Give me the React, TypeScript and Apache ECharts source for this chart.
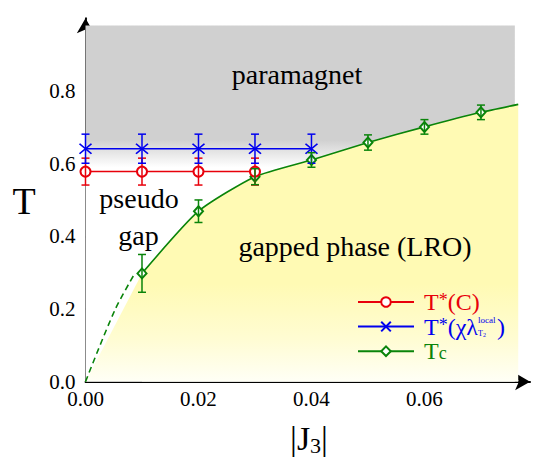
import React, { useEffect, useRef } from 'react';
import * as echarts from 'echarts';

const SERIF = 'Liberation Serif, serif';

// axis ticks / labels
const xTickValues = [0, 0.01, 0.02, 0.03, 0.04, 0.05, 0.06, 0.07];
const xLabelValues = [0, 0.02, 0.04, 0.06];
const yTickValues = [0, 0.2, 0.4, 0.6, 0.8];

// T*(C)
const tStarCJ3 = [0, 0.01, 0.02, 0.03];
const tStarCT = [0.578, 0.578, 0.578, 0.578];
const tStarCErr = [0.037, 0.037, 0.037, 0.037];

// T*(chi lambda)
const tStarChiJ3 = [0, 0.01, 0.02, 0.03, 0.04];
const tStarChiT = [0.641, 0.641, 0.641, 0.641, 0.641];
const tStarChiErr = [0.04, 0.04, 0.04, 0.04, 0.04];

// Tc
const tcJ3 = [0.01, 0.02, 0.03, 0.04, 0.05, 0.06, 0.07];
const tcT = [0.298, 0.469, 0.564, 0.61, 0.658, 0.701, 0.741];
const tcErr = [0.052, 0.031, 0.022, 0.02, 0.021, 0.02, 0.02];
const tcCurveEnd = [0.0766, 0.763];

// dashed extrapolation of Tc to the origin
const tcExtrapJ3 = [0, 0.0052, 0.0088];
const tcExtrapT = [0, 0.197, 0.3];

// paramagnet background region
const paraJ3 = [0, 0.076];
const paraT = [0.98, 0.98];
const grayFullT = 0.665;
const grayFadeT = 0.59;

const RED = '#e8000b';
const BLUE = '#0000ee';
const GREEN = '#0a840a';
const GRAY = '#d0d0d0';
const YELLOW = '#fffab4';

function grad(stops: { t: number; c: string }[], top: number) {
  return new echarts.graphic.LinearGradient(
    0,
    0,
    0,
    1,
    stops.map((s) => ({ offset: Math.min(1, Math.max(0, (top - s.t) / top)), color: s.c }))
  );
}

function yellowFill(top: number) {
  return grad(
    [
      { t: 0.27, c: YELLOW },
      { t: 0.12, c: '#fffcd2' },
      { t: 0, c: '#fffff6' },
    ],
    top
  );
}

function errorBars(name: string, xs: number[], ys: number[], es: number[], color: string) {
  return {
    type: 'custom',
    name,
    z: 5,
    silent: true,
    data: xs.map((x, i) => [x, ys[i], es[i]]),
    encode: { x: 0, y: 1 },
    renderItem: (_params: any, api: any) => {
      const x = api.value(0);
      const y = api.value(1);
      const e = api.value(2);
      const hi = api.coord([x, y + e]);
      const lo = api.coord([x, y - e]);
      const cap = 4;
      const style = { stroke: color, lineWidth: 1.5 };
      return {
        type: 'group',
        children: [
          { type: 'line', shape: { x1: hi[0], y1: hi[1], x2: lo[0], y2: lo[1] }, style },
          { type: 'line', shape: { x1: hi[0] - cap, y1: hi[1], x2: hi[0] + cap, y2: hi[1] }, style },
          { type: 'line', shape: { x1: lo[0] - cap, y1: lo[1], x2: lo[0] + cap, y2: lo[1] }, style },
        ],
      };
    },
  };
}

const legendRich = {
  rT: { color: RED, fontSize: 24, fontFamily: SERIF, lineHeight: 22, padding: [0, 0, 0, 5] },
  rS: { color: RED, fontSize: 18, fontFamily: SERIF, lineHeight: 10, verticalAlign: 'top' },
  rP: { color: RED, fontSize: 24, fontFamily: SERIF, lineHeight: 22 },
  bT: { color: BLUE, fontSize: 24, fontFamily: SERIF, lineHeight: 22, padding: [0, 0, 0, 5] },
  bS: { color: BLUE, fontSize: 18, fontFamily: SERIF, lineHeight: 10, verticalAlign: 'top' },
  bP: { color: BLUE, fontSize: 24, fontFamily: SERIF, lineHeight: 22 },
  bL: { color: BLUE, fontSize: 9, fontFamily: SERIF, lineHeight: 12, verticalAlign: 'top', width: 0.1, align: 'left' },
  bSub: { color: BLUE, fontSize: 8, fontFamily: SERIF, lineHeight: 2, verticalAlign: 'bottom' },
  bSub2: { color: BLUE, fontSize: 6, fontFamily: SERIF, lineHeight: 0, verticalAlign: 'bottom', padding: [0, 11, 0, 0] },
  gT: { color: GREEN, fontSize: 24, fontFamily: SERIF, lineHeight: 22, padding: [0, 0, 0, 5] },
  gC: { color: GREEN, fontSize: 18, fontFamily: SERIF, lineHeight: 12, verticalAlign: 'bottom' },
};

const legendText: Record<string, string> = {
  'T*(C)': '{rT|T}{rS|*}{rP|(C)}',
  'T*(χλ)': '{bT|T}{bS|*}{bP|(χλ}{bL|local}{bSub|T}{bSub2|2}{bP|)}',
  Tc: '{gT|T}{gC|c}',
};

const option: any = {
  animation: false,
  backgroundColor: '#ffffff',
  textStyle: { fontFamily: SERIF },
  grid: { left: 85.5, top: 18.2, width: 444.6, height: 363.5, outerBoundsMode: 'none' },
  xAxis: {
    type: 'value',
    min: 0,
    max: 0.0787,
    axisLine: {
      show: true,
      symbol: ['none', 'arrow'],
      symbolSize: [13, 15],
      lineStyle: { color: '#000', width: 1.8 },
    },
    axisTick: { show: true, inside: true, length: 9, customValues: xTickValues, lineStyle: { color: '#000', width: 1.5 } },
    axisLabel: {
      customValues: xLabelValues,
      formatter: (v: number) => v.toFixed(2),
      fontSize: 21,
      fontFamily: SERIF,
      color: '#000',
      margin: 7,
    },
    splitLine: { show: false },
  },
  yAxis: {
    type: 'value',
    min: 0,
    max: 1.0,
    axisLine: {
      show: true,
      symbol: ['none', 'arrow'],
      symbolSize: [13, 15],
      lineStyle: { color: '#000', width: 1.8 },
    },
    axisTick: { show: true, inside: true, length: 9, customValues: yTickValues, lineStyle: { color: '#000', width: 1.5 } },
    axisLabel: {
      customValues: yTickValues,
      formatter: (v: number) => v.toFixed(1),
      fontSize: 21,
      fontFamily: SERIF,
      color: '#000',
      margin: 10,
    },
    splitLine: { show: false },
  },
  legend: {
    data: ['T*(C)', 'T*(χλ)', 'Tc'],
    orient: 'vertical',
    left: 352,
    top: 285,
    itemWidth: 56,
    itemHeight: 12,
    itemGap: 0.6,
    selectedMode: false,
    formatter: (name: string) => legendText[name] ?? name,
    textStyle: { rich: legendRich, fontFamily: SERIF },
  },
  series: [
    {
      type: 'line',
      name: 'paramagnet-bg',
      silent: true,
      z: 1,
      symbol: 'none',
      data: paraJ3.map((x, i) => [x, paraT[i]]),
      lineStyle: { width: 0, opacity: 0 },
      areaStyle: {
        opacity: 1,
        color: grad(
          [
            { t: grayFullT, c: GRAY },
            { t: grayFadeT, c: '#ffffff' },
          ],
          paraT[0]
        ),
      },
    },
    {
      type: 'line',
      name: 'lro-wedge',
      silent: true,
      z: 1,
      symbol: 'none',
      data: [
        [tcExtrapJ3[0], tcExtrapT[0]],
        [tcJ3[0], tcT[0]],
      ],
      lineStyle: { width: 0, opacity: 0 },
      areaStyle: { opacity: 1, color: yellowFill(tcT[0]) },
    },
    {
      type: 'line',
      name: 'Tc',
      z: 2,
      smooth: 0.2,
      symbol: 'emptyDiamond',
      symbolSize: [9, 10],
      data: [
        ...tcJ3.map((x, i) => [x, tcT[i]]),
        { value: tcCurveEnd, symbol: 'none' },
      ],
      itemStyle: { color: GREEN, borderColor: GREEN, borderWidth: 1.5 },
      lineStyle: { color: GREEN, width: 1.6 },
      areaStyle: { opacity: 1, color: yellowFill(tcCurveEnd[1]) },
    },
    {
      type: 'line',
      name: 'Tc-extrapolation',
      silent: true,
      z: 2,
      smooth: 0.3,
      symbol: 'none',
      data: tcExtrapJ3.map((x, i) => [x, tcExtrapT[i]]),
      lineStyle: { color: GREEN, width: 1.6, type: [6, 4] },
    },
    {
      type: 'line',
      name: 'T*(C)',
      z: 3,
      symbol: 'emptyCircle',
      symbolSize: 10,
      data: tStarCJ3.map((x, i) => [x, tStarCT[i]]),
      itemStyle: { color: RED, borderColor: RED, borderWidth: 1.5 },
      lineStyle: { color: RED, width: 1.5 },
    },
    {
      type: 'line',
      name: 'T*(χλ)',
      z: 3,
      symbol: 'path://M0,0L12,10M12,0L0,10',
      symbolSize: [12, 10],
      data: tStarChiJ3.map((x, i) => [x, tStarChiT[i]]),
      itemStyle: { color: BLUE, borderColor: BLUE, borderWidth: 1.6 },
      lineStyle: { color: BLUE, width: 1.5 },
    },
    errorBars('T*(C)-err', tStarCJ3, tStarCT, tStarCErr, RED),
    errorBars('T*(χλ)-err', tStarChiJ3, tStarChiT, tStarChiErr, BLUE),
    errorBars('Tc-err', tcJ3, tcT, tcErr, GREEN),
  ],
  graphic: [
    {
      type: 'text',
      x: 297,
      y: 74,
      z: 10,
      style: { text: 'paramagnet', fontSize: 28, fontFamily: SERIF, fill: '#000', align: 'center', verticalAlign: 'middle' },
    },
    {
      type: 'text',
      x: 139,
      y: 198,
      z: 10,
      style: { text: 'pseudo', fontSize: 28, fontFamily: SERIF, fill: '#000', align: 'center', verticalAlign: 'middle' },
    },
    {
      type: 'text',
      x: 138.5,
      y: 235.5,
      z: 10,
      style: { text: 'gap', fontSize: 28, fontFamily: SERIF, fill: '#000', align: 'center', verticalAlign: 'middle' },
    },
    {
      type: 'text',
      x: 355,
      y: 246.5,
      z: 10,
      style: { text: 'gapped phase (LRO)', fontSize: 28, fontFamily: SERIF, fill: '#000', align: 'center', verticalAlign: 'middle' },
    },
    {
      type: 'text',
      x: 24,
      y: 201,
      z: 10,
      style: { text: 'T', fontSize: 38, fontFamily: SERIF, fill: '#000', align: 'center', verticalAlign: 'middle' },
    },
    {
      type: 'text',
      x: 309,
      y: 438,
      z: 10,
      style: {
        text: '{a||J}{b|3}{a||}',
        align: 'center',
        verticalAlign: 'middle',
        rich: {
          a: { fontSize: 34, fontFamily: SERIF, fill: '#000', color: '#000', lineHeight: 36 },
          b: { fontSize: 22, fontFamily: SERIF, fill: '#000', color: '#000', lineHeight: 14, verticalAlign: 'bottom' },
        },
      },
    },
  ],
};

export default function App() {
  const ref = useRef<HTMLDivElement>(null);
  useEffect(() => {
    if (!ref.current) return;
    const chart = echarts.init(ref.current, null, { renderer: 'svg' });
    chart.setOption(option);
    return () => chart.dispose();
  }, []);
  return <div ref={ref} style={{ position: 'fixed', left: 0, top: 0, width: 538, height: 461 }} />;
}
